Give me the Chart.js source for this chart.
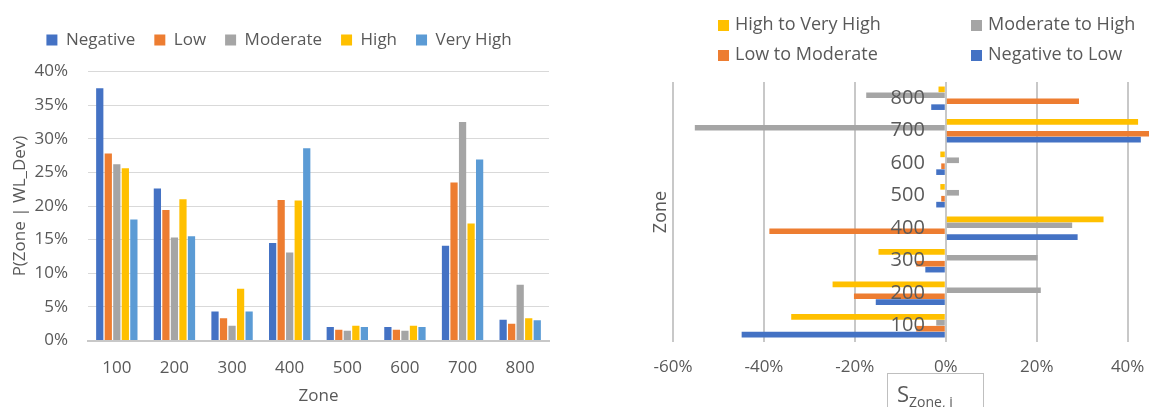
<!DOCTYPE html>
<html>
<head>
<meta charset="utf-8">
<script src="https://cdn.jsdelivr.net/npm/chart.js@4.4.0/dist/chart.umd.min.js"></script>
<style>
  body { margin: 0; width: 1149px; height: 407px; overflow: hidden; background: #fff; position: relative;
         font-family: "Open Sans", sans-serif; color: #595959; }
  #graficoIzq { position: absolute; left: 0; top: 0; }
  #graficoDer { position: absolute; left: 580px; top: 0; }
  .item-leyenda { position: absolute; height: 24px; line-height: 24px; font-size: 18px; white-space: nowrap; }
  .item-leyenda .cuadro { display: inline-block; width: 11px; height: 11px; margin-right: 6px; vertical-align: -1px; }
  #titulo-s { position: absolute; left: 887px; top: 373px; width: 97px; height: 50px; box-sizing: border-box;
              border: 1px solid #bfbfbf; padding: 8px 0 0 9px; font-size: 22px; line-height: 22px; }
  #titulo-s sub { font-size: 14px; vertical-align: -5px; }
</style>
</head>
<body>
<canvas id="graficoIzq" width="580" height="407"></canvas>
<canvas id="graficoDer" width="569" height="407"></canvas>
<div id="leyenda-der"></div>
<div id="titulo-s">S<sub>Zone, j</sub></div>

<script>
// zonas y probabilidades P(Zone | WL_Dev), en %
const zonas = ['100', '200', '300', '400', '500', '600', '700', '800'];
const negativo = [37.5, 22.6, 4.3, 14.5, 2.0, 2.0, 14.1, 3.1];
const bajo = [27.8, 19.4, 3.3, 20.9, 1.6, 1.6, 23.5, 2.5];
const moderado = [26.2, 15.3, 2.2, 13.1, 1.45, 1.45, 32.5, 8.3];
const alto = [25.6, 21.0, 7.7, 20.8, 2.2, 2.2, 17.4, 3.3];
const muyAlto = [18.0, 15.5, 4.3, 28.6, 2.0, 2.0, 26.9, 3.0];

// S_Zone,j (transiciones), en %
const altoAMuyAlto = [-34.0, -24.9, -14.8, 34.7, -1.2, -1.2, 42.3, -1.6];
const moderadoAAlto = [-2.1, 20.9, 20.2, 27.8, 2.9, 2.9, -55.2, -17.5];
const bajoAModerado = [-6.5, -20.2, -6.5, -38.8, -1.0, -1.0, 45.5, 29.3];
const negativoABajo = [-44.9, -15.4, -4.5, 29.0, -2.1, -2.1, 42.9, -3.2];

const ticksIzq = [0, 5, 10, 15, 20, 25, 30, 35, 40];
const ticksDer = [-60, -40, -20, 0, 20, 40];

const azul = '#4472C4', naranja = '#ED7D31', gris = '#A5A5A5', amarillo = '#FFC000', celeste = '#5B9BD5';
const textoGris = '#595959';

document.addEventListener("DOMContentLoaded", function () {
  Chart.defaults.font.family = '"Open Sans", sans-serif';
  Chart.defaults.color = textoGris;
  Chart.defaults.animation = false;

  // un poco mas de aire debajo de la leyenda
  const espacioLeyenda = {
    id: 'espacioLeyenda',
    beforeInit(chart) {
      const fitOriginal = chart.legend.fit;
      chart.legend.fit = function () {
        fitOriginal.bind(chart.legend)();
        this.height += 13;
      };
    }
  };

  new Chart(document.getElementById("graficoIzq"), {
    type: 'bar',
    data: {
      labels: zonas,
      datasets: [
        { label: 'Negative', data: negativo, backgroundColor: azul },
        { label: 'Low', data: bajo, backgroundColor: naranja },
        { label: 'Moderate', data: moderado, backgroundColor: gris },
        { label: 'High', data: alto, backgroundColor: amarillo },
        { label: 'Very High', data: muyAlto, backgroundColor: celeste }
      ]
    },
    options: {
      responsive: false,
      categoryPercentage: 0.74,
      barPercentage: 0.85,
      layout: { padding: { left: 9, right: 31, top: 12.5, bottom: 0 } },
      plugins: {
        legend: {
          labels: { boxWidth: 11, boxHeight: 11, padding: 19, font: { size: 17 } }
        },
        tooltip: { enabled: false }
      },
      scales: {
        x: {
          grid: { display: false, drawTicks: false },
          border: { color: '#C8C8C8', width: 2 },
          ticks: { font: { size: 17 }, padding: 17 },
          title: { display: true, text: 'Zone', font: { size: 17 }, padding: { top: 0, bottom: 1 } },
          afterFit(escala) { escala.height = 66.5; }
        },
        y: {
          min: 0,
          max: 40,
          afterBuildTicks(escala) { escala.ticks = ticksIzq.map(v => ({ value: v })); },
          grid: { color: '#D9D9D9', drawTicks: false },
          border: { display: false },
          ticks: { font: { size: 17 }, padding: 20, callback: v => v + '%' },
          title: { display: true, text: 'P(Zone | WL_Dev)', font: { size: 17 }, padding: { top: 1, bottom: 0 } },
          afterFit(escala) { escala.width = 79; }
        }
      }
    },
    plugins: [espacioLeyenda]
  });

  const seriesDer = [
    { label: 'High to Very High', data: altoAMuyAlto, backgroundColor: amarillo },
    { label: 'Moderate to High', data: moderadoAAlto, backgroundColor: gris },
    { label: 'Low to Moderate', data: bajoAModerado, backgroundColor: naranja },
    { label: 'Negative to Low', data: negativoABajo, backgroundColor: azul }
  ];

  new Chart(document.getElementById("graficoDer"), {
    type: 'bar',
    data: { labels: zonas, datasets: seriesDer },
    options: {
      responsive: false,
      indexAxis: 'y',
      categoryPercentage: 0.73,
      barPercentage: 0.95,
      layout: { padding: { left: 60, right: 0, top: 82, bottom: 0 } },
      plugins: { legend: { display: false }, tooltip: { enabled: false } },
      scales: {
        x: {
          min: -60,
          max: 44.7,
          afterBuildTicks(escala) { escala.ticks = ticksDer.map(v => ({ value: v })); },
          grid: { color: '#C8C8C8', lineWidth: 2, drawTicks: false },
          border: { display: false },
          ticks: { font: { size: 17 }, padding: 15, callback: v => v + '%' },
          afterFit(escala) {
            escala.height = 65;
            escala.paddingLeft = 0;
            escala.paddingRight = 0;
          }
        },
        y: {
          reverse: true,
          position: { x: -4.6 },
          grid: { display: false, drawTicks: false },
          border: { display: false },
          ticks: { font: { size: 20 }, padding: 0, z: 1 }
        },
        yt: {
          type: 'linear',
          position: 'left',
          grid: { display: false, drawTicks: false },
          border: { display: false },
          ticks: { display: false },
          title: { display: true, text: 'Zone', font: { size: 18 }, padding: { top: 10, bottom: 0 } },
          afterFit(escala) { escala.width = 33; }
        }
      }
    }
  });

  // leyenda del grafico derecho, en dos columnas como en el original
  const leyenda = document.getElementById("leyenda-der");
  const posiciones = [[718, 11], [971, 11], [718, 41], [971, 41]];
  seriesDer.forEach((serie, i) => {
    const item = document.createElement("div");
    item.className = "item-leyenda";
    item.style.left = posiciones[i][0] + "px";
    item.style.top = posiciones[i][1] + "px";
    const cuadro = document.createElement("span");
    cuadro.className = "cuadro";
    cuadro.style.background = serie.backgroundColor;
    item.appendChild(cuadro);
    item.appendChild(document.createTextNode(serie.label));
    leyenda.appendChild(item);
  });
});
</script>
</body>
</html>
